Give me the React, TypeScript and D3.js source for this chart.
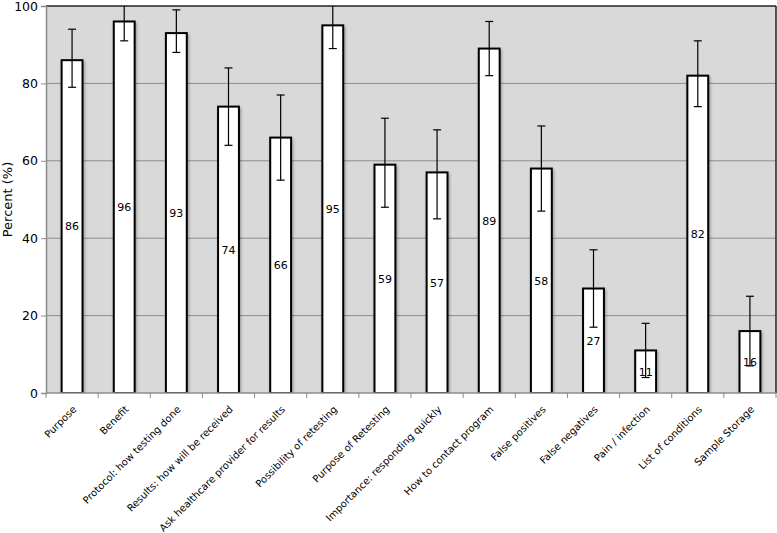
import { useEffect, useRef } from "react";
import * as d3 from "d3";

// ── Data ─────────────────────────────────────────────────────────────────────
const CATEGORIES = [
  "Purpose",
  "Benefit",
  "Protocol: how testing done",
  "Results: how will be received",
  "Ask healthcare provider for results",
  "Possibility of retesting",
  "Purpose of Retesting",
  "Importance: responding quickly",
  "How to contact program",
  "False positives",
  "False negatives",
  "Pain / infection",
  "List of conditions",
  "Sample Storage",
];
const VALUES = [86, 96, 93, 74, 66, 95, 59, 57, 89, 58, 27, 11, 82, 16];
const ERR_LOW = [79, 91, 88, 64, 55, 89, 48, 45, 82, 47, 17, 4, 74, 7];
const ERR_HIGH = [94, 101, 99, 84, 77, 101, 71, 68, 96, 69, 37, 18, 91, 25];
const Y_TICKS = [0, 20, 40, 60, 80, 100];

const FONT = "'DejaVu Sans', sans-serif";

export default function App() {
  const svgRef = useRef<SVGSVGElement>(null);

  useEffect(() => {
    const svg = d3.select(svgRef.current);
    svg.selectAll("*").remove();

    const width = 777, height = 533;
    const margin = { top: 6, right: 1, bottom: 140, left: 46 };
    const W = width - margin.left - margin.right;
    const H = height - margin.top - margin.bottom;

    const x = d3.scaleBand<string>().domain(CATEGORIES).range([0, W]).paddingInner(0.6).paddingOuter(0.3);
    const y = d3.scaleLinear().domain([0, 100]).range([H, 0]);

    const defs = svg.append("defs");
    defs.append("clipPath").attr("id", "plot-clip")
      .append("rect").attr("width", W).attr("height", H);
    const f = defs.append("filter").attr("id", "shadow")
      .attr("x", "-30%").attr("y", "-10%").attr("width", "160%").attr("height", "130%");
    f.append("feGaussianBlur").attr("in", "SourceAlpha").attr("stdDeviation", 1.5);
    f.append("feOffset").attr("dx", 1).attr("dy", 2).attr("result", "b");
    f.append("feComponentTransfer").append("feFuncA").attr("type", "linear").attr("slope", 0.35);
    const m = f.append("feMerge");
    m.append("feMergeNode");
    m.append("feMergeNode").attr("in", "SourceGraphic");

    const g = svg.append("g").attr("transform", `translate(${margin.left},${margin.top})`);

    // plot background
    g.append("rect").attr("width", W).attr("height", H).attr("fill", "#d9d9d9");

    // gridlines
    g.selectAll(".grid").data(Y_TICKS.filter(t => t > 0 && t < 100)).join("line")
      .attr("x1", 0).attr("x2", W).attr("y1", d => y(d)).attr("y2", d => y(d))
      .attr("stroke", "#8c8c8c").attr("stroke-width", 1);

    // plot border (top / right)
    g.append("line").attr("x1", 0).attr("x2", W).attr("y1", 0).attr("y2", 0)
      .attr("stroke", "#222").attr("stroke-width", 1.5);
    g.append("line").attr("x1", W).attr("x2", W).attr("y1", 0).attr("y2", H)
      .attr("stroke", "#222").attr("stroke-width", 1.5);

    // bars
    const plot = g.append("g").attr("clip-path", "url(#plot-clip)");
    plot.selectAll(".bar").data(CATEGORIES).join("rect")
      .attr("x", d => x(d)!).attr("width", x.bandwidth())
      .attr("y", (_, i) => y(VALUES[i])).attr("height", (_, i) => H - y(VALUES[i]))
      .attr("fill", "#fff").attr("stroke", "#000").attr("stroke-width", 2)
      .attr("filter", "url(#shadow)");

    // value labels
    g.selectAll(".vlabel").data(CATEGORIES).join("text")
      .attr("x", d => x(d)! + x.bandwidth() / 2)
      .attr("y", (_, i) => y(VALUES[i] / 2))
      .attr("dy", "0.35em").attr("text-anchor", "middle")
      .attr("font-family", FONT).attr("font-size", 11).attr("fill", "#000")
      .text((_, i) => VALUES[i]);

    // error bars
    const eb = plot.append("g").attr("stroke", "#000").attr("stroke-width", 1.2);
    CATEGORIES.forEach((c, i) => {
      const cx = x(c)! + x.bandwidth() / 2;
      eb.append("line").attr("x1", cx).attr("x2", cx)
        .attr("y1", y(ERR_LOW[i])).attr("y2", y(ERR_HIGH[i]));
      [ERR_LOW[i], ERR_HIGH[i]].forEach(v => {
        eb.append("line").attr("x1", cx - 4).attr("x2", cx + 4)
          .attr("y1", y(v)).attr("y2", y(v));
      });
    });

    // y axis
    g.append("g")
      .call(d3.axisLeft(y).tickValues(Y_TICKS).tickSize(5).tickPadding(3))
      .call(ax => ax.select(".domain").attr("stroke", "#8c8c8c").attr("stroke-width", 1.5))
      .call(ax => ax.selectAll(".tick line").attr("stroke", "#8c8c8c"))
      .call(ax => ax.selectAll(".tick text").attr("fill", "#000")
        .attr("font-family", FONT).attr("font-size", 12.5));

    // x axis baseline + ticks between categories
    const xa = g.append("g").attr("transform", `translate(0,${H})`);
    xa.append("line").attr("x1", 0).attr("x2", W).attr("stroke", "#8c8c8c").attr("stroke-width", 1.5);
    const step = x.step();
    xa.selectAll(".xt").data(d3.range(CATEGORIES.length + 1)).join("line")
      .attr("x1", i => i * step).attr("x2", i => i * step)
      .attr("y1", 0).attr("y2", 5).attr("stroke", "#8c8c8c");

    xa.selectAll(".xl").data(CATEGORIES).join("text")
      .attr("transform", d => `translate(${x(d)! + x.bandwidth() / 2 + 5},${17}) rotate(-45)`)
      .attr("text-anchor", "end")
      .attr("font-family", FONT).attr("font-size", 10).attr("fill", "#000")
      .text(d => d);

    // y label
    svg.append("text")
      .attr("transform", `translate(12,${margin.top + H / 2}) rotate(-90)`)
      .attr("text-anchor", "middle")
      .attr("font-family", FONT).attr("font-size", 13).attr("fill", "#000")
      .text("Percent (%)");
  }, []);

  return (
    <svg ref={svgRef} width={777} height={533}
      style={{ position: "absolute", left: 0, top: 0, background: "#fff" }} />
  );
}
